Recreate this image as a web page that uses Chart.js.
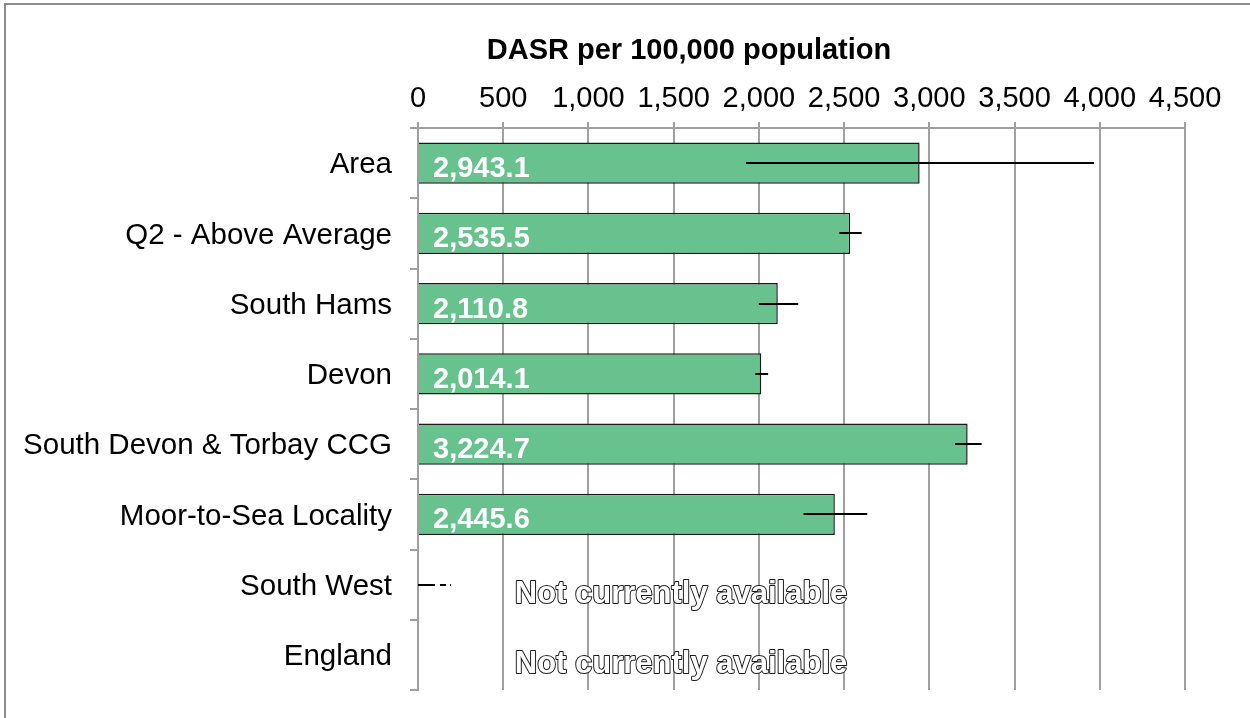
<!DOCTYPE html>
<html><head><meta charset="utf-8">
<script src="https://cdn.jsdelivr.net/npm/chart.js@4/dist/chart.umd.min.js"></script>
<style>html,body{margin:0;padding:0;background:#fff;} #wrap{width:1250px;height:718px;position:relative;}</style>
</head><body><div id="wrap"><canvas id="c" width="1250" height="718"></canvas></div>
<script>
const categories = ['Area','Q2 - Above Average','South Hams','Devon','South Devon & Torbay CCG','Moor-to-Sea Locality','South West','England'];
const values = [2943.1, 2535.5, 2110.8, 2014.1, 3224.7, 2445.6, null, null];
const lowerCI = [1924, 2472, 2000, 1979, 3151, 2262, 0, null];
const upperCI = [3966, 2603, 2231, 2054, 3307, 2636, 195, null];
const xTickValues = [0, 500, 1000, 1500, 2000, 2500, 3000, 3500, 4000, 4500];
const axisTitle = 'DASR per 100,000 population';
const missingText = 'Not currently available';

const FONT = "'Liberation Sans', Arial, sans-serif";
const GRID = '#a0a0a0';

const overlay = {
  id: 'overlay',
  beforeDraw(chart) {
    const ctx = chart.ctx;
    ctx.save();
    ctx.strokeStyle = '#8c8c8c'; ctx.lineWidth = 2;
    ctx.beginPath(); ctx.moveTo(5, 718); ctx.lineTo(5, 4); ctx.lineTo(1250, 4); ctx.stroke();
    ctx.restore();
  },
  afterDatasetsDraw(chart) {
    const ctx = chart.ctx, x = chart.scales.x, y = chart.scales.y, ca = chart.chartArea;
    ctx.save();
    ctx.strokeStyle = '#000'; ctx.lineWidth = 2;
    categories.forEach((c, i) => {
      if (lowerCI[i] == null || upperCI[i] == null) return;
      const yy = Math.round(y.getPixelForValue(i));
      ctx.setLineDash(values[i] == null ? [17, 5, 6, 4, 1, 100] : []);
      ctx.beginPath();
      ctx.moveTo(x.getPixelForValue(lowerCI[i]), yy);
      ctx.lineTo(x.getPixelForValue(upperCI[i]), yy);
      ctx.stroke();
    });
    ctx.setLineDash([]);
    ctx.font = 'bold 29px ' + FONT; ctx.fillStyle = '#fff'; ctx.textAlign = 'left'; ctx.textBaseline = 'middle';
    values.forEach((v, i) => {
      if (v == null) return;
      const t = v.toLocaleString('en-US', {minimumFractionDigits: 1, maximumFractionDigits: 1});
      ctx.fillText(t, x.getPixelForValue(0) + 15, y.getPixelForValue(i) + 6);
    });
    ctx.font = 'bold 31px ' + FONT; ctx.textAlign = 'center';
    ctx.lineWidth = 2; ctx.strokeStyle = '#1a1a1a'; ctx.fillStyle = '#fff'; ctx.lineJoin = 'round';
    values.forEach((v, i) => {
      if (v != null) return;
      const cx = ca.left + 263, cy = y.getPixelForValue(i) + 10;
      ctx.strokeText(missingText, cx, cy);
      ctx.fillText(missingText, cx, cy);
    });
    ctx.font = 'bold 29px ' + FONT; ctx.fillStyle = '#000'; ctx.textAlign = 'center';
    ctx.fillText(axisTitle, 689, 51);
    ctx.restore();
  }
};

new Chart(document.getElementById('c'), {
  type: 'bar',
  data: {
    labels: categories,
    datasets: [{
      data: values,
      backgroundColor: '#67c28d',
      borderColor: '#1a1a1a',
      borderWidth: 1.5,
      barPercentage: 0.584,
      categoryPercentage: 1
    }]
  },
  options: {
    indexAxis: 'y',
    responsive: false,
    animation: false,
    devicePixelRatio: 1,
    layout: {padding: {left: 10, top: 0, right: 65, bottom: 28}},
    plugins: {legend: {display: false}, tooltip: {enabled: false}, title: {display: false}},
    scales: {
      x: {
        position: 'top',
        min: 0, max: 4500,
        afterBuildTicks(s) { s.ticks = xTickValues.map(v => ({value: v})); },
        afterFit(s) { s.height = 128; },
        ticks: {
          font: {family: FONT, size: 29}, color: '#000', padding: 6, maxRotation: 0, autoSkip: false,
          callback: v => Number(v).toLocaleString('en-US')
        },
        grid: {color: GRID, lineWidth: 2, tickLength: 6, drawTicks: true},
        border: {display: true, color: GRID, width: 2}
      },
      y: {
        afterFit(s) { s.width = 408; s.paddingTop = 0; s.paddingBottom = 0; },
        ticks: {font: {family: FONT, size: 29.5}, color: '#000', padding: 18, autoSkip: false, labelOffset: 2},
        grid: {offset: true, drawOnChartArea: false, color: GRID, lineWidth: 2, tickLength: 8},
        border: {display: true, color: GRID, width: 2}
      }
    }
  },
  plugins: [overlay]
});
</script>
</body></html>
